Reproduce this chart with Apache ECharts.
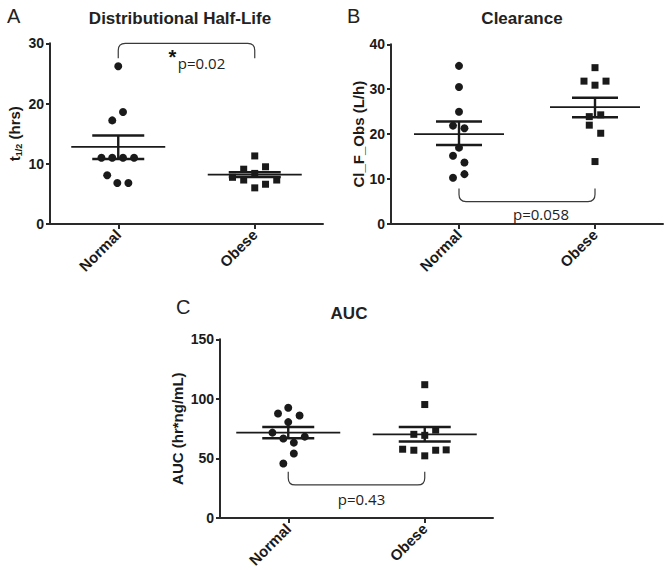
<!DOCTYPE html>
<html>
<head>
<meta charset="utf-8">
<script src="https://cdn.jsdelivr.net/npm/echarts@6/dist/echarts.min.js"></script>
<style>html,body{margin:0;padding:0;background:#fff}#main{width:664px;height:570px}</style>
</head>
<body>
<div id="main"></div>
<script>
// ---- data ----
const categories = ['Normal', 'Obese'];

// Panel A: Distributional Half-Life (hrs)
const aNormal = [26.2, 18.6, 17.2, 11.0, 11.0, 11.0, 11.0, 8.1, 6.8, 6.8];
const aNormalJitter = [0, 0.035, -0.044, -0.123, -0.044, 0.035, 0.116, -0.081, -0.007, 0.074];
const aObese = [11.3, 9.1, 9.5, 8.4, 7.75, 7.3, 7.3, 6.0, 6.6];
const aObeseJitter = [0, -0.081, 0.079, 0, -0.163, -0.081, 0.161, 0, 0.079];
const aMean = [12.8, 8.2];
const aSemLow = [10.8, 7.8];
const aSemHigh = [14.7, 8.6];

// Panel B: Clearance (L/h)
const bNormal = [35.2, 30.5, 25.0, 21.9, 21.3, 17.0, 15.2, 13.7, 10.3, 11.1];
const bNormalJitter = [0, 0, 0, -0.044, 0.04, 0, -0.044, 0.04, -0.044, 0.04];
const bObese = [34.8, 31.8, 31.8, 30.9, 23.9, 24.3, 22.0, 20.2, 13.9];
const bObeseJitter = [0, -0.081, 0.081, 0, -0.042, 0.042, -0.042, 0.042, 0];
const bMean = [20.0, 26.0];
const bSemLow = [17.6, 23.75];
const bSemHigh = [22.8, 28.1];

// Panel C: AUC (hr*ng/mL)
const cNormal = [92.5, 87.75, 86.1, 80.5, 71.7, 66.7, 63.3, 68.3, 54.2, 45.8];
const cNormalJitter = [0, -0.075, 0.083, 0, -0.116, -0.036, 0.041, 0.121, 0.041, -0.036];
const cObese = [111.9, 95.25, 73.8, 69.4, 70.25, 57.75, 56.9, 52.2, 56.9, 57.2];
const cObeseJitter = [0, 0, 0.08, 0, -0.08, -0.162, -0.08, 0, 0.08, 0.157];
const cMean = [71.7, 70.25];
const cSemLow = [66.9, 64.2];
const cSemHigh = [76.4, 76.4];

// brackets: [fromCategory, toCategory, baseValue, tipValue]
const aBracket = [0, 1, 30, 27.5];
const bBracket = [0, 1, 5, 7.9];
const cBracket = [0, 1, 27.75, 38.8];
const pLabels = ['p=0.02', 'p=0.058', 'p=0.43'];

const yTicksA = [0, 30, 10];
const yTicksB = [0, 40, 10];
const yTicksC = [0, 150, 50];

// ---- chart ----
const INK = '#1a1a1a';
const AXIS = '#2a2a2a';
const chart = echarts.init(document.getElementById('main'), null, {renderer: 'svg'});

function pts(vals, jit, k) { return vals.map((v, i) => [k + jit[i], v]); }

function xAxisDef(gi) {
  return {
    type: 'value', gridIndex: gi, min: -0.5, max: 1.5,
    splitLine: {show: false},
    axisLine: {show: true, onZero: false, lineStyle: {color: AXIS, width: 2}},
    axisTick: {show: true, inside: false, customValues: [0, 1], length: 5, lineStyle: {color: AXIS, width: 2}},
    axisLabel: {
      customValues: [0, 1], rotate: 45, margin: 8,
      formatter: v => categories[Math.round(v)],
      fontFamily: 'Liberation Sans', fontWeight: 'bold', fontSize: 15, color: INK
    }
  };
}
function yAxisDef(gi, t, name, gap, rich) {
  const d = {
    type: 'value', gridIndex: gi, min: t[0], max: t[1], interval: t[2],
    splitLine: {show: false},
    axisLine: {show: true, onZero: false, lineStyle: {color: AXIS, width: 2}},
    axisTick: {show: true, inside: false, length: 4, lineStyle: {color: AXIS, width: 2}},
    axisLabel: {fontFamily: 'Liberation Sans', fontWeight: 'bold', fontSize: 14, color: INK, margin: 6},
    name: name, nameLocation: 'middle', nameGap: gap,
    nameTextStyle: {fontFamily: 'Liberation Sans', fontWeight: 'bold', fontSize: 15, color: INK}
  };
  if (rich) d.nameTextStyle.rich = rich;
  return d;
}

function errSeries(gi, mean, lo, hi, meanHalf, semHalf) {
  return {
    type: 'custom', xAxisIndex: gi, yAxisIndex: gi, z: 5,
    data: mean.map((m, k) => [k, m, lo[k], hi[k]]),
    renderItem: function (params, api) {
      const k = api.value(0);
      const pm = api.coord([k, api.value(1)]);
      const pl = api.coord([k, api.value(2)]);
      const ph = api.coord([k, api.value(3)]);
      const st = {stroke: INK, lineWidth: 2.4};
      return {type: 'group', children: [
        {type: 'line', shape: {x1: pm[0] - meanHalf, y1: pm[1], x2: pm[0] + meanHalf, y2: pm[1]}, style: {stroke: INK, lineWidth: 1.7}},
        {type: 'line', shape: {x1: pl[0] - semHalf, y1: pl[1], x2: pl[0] + semHalf, y2: pl[1]}, style: st},
        {type: 'line', shape: {x1: ph[0] - semHalf, y1: ph[1], x2: ph[0] + semHalf, y2: ph[1]}, style: st},
        {type: 'line', shape: {x1: pl[0], y1: pl[1], x2: ph[0], y2: ph[1]}, style: st}
      ]};
    }
  };
}

function bracketSeries(gi, br, label, dx, dy, star) {
  return {
    type: 'custom', xAxisIndex: gi, yAxisIndex: gi, z: 4,
    data: [br],
    renderItem: function (params, api) {
      const p1 = api.coord([api.value(0), api.value(2)]);
      const p2 = api.coord([api.value(1), api.value(2)]);
      const t1 = api.coord([api.value(0), api.value(3)]);
      const dir = t1[1] > p1[1] ? 1 : -1;
      const r = 7;
      const y0 = p1[1];
      const path = 'M' + t1[0] + ' ' + t1[1] +
        ' L' + p1[0] + ' ' + (y0 + dir * r) +
        ' Q' + p1[0] + ' ' + y0 + ' ' + (p1[0] + r) + ' ' + y0 +
        ' L' + (p2[0] - r) + ' ' + y0 +
        ' Q' + p2[0] + ' ' + y0 + ' ' + p2[0] + ' ' + (y0 + dir * r) +
        ' L' + p2[0] + ' ' + t1[1];
      const cx = (p1[0] + p2[0]) / 2;
      const children = [
        {type: 'path', shape: {pathData: path}, style: {fill: null, stroke: '#3a3a3a', lineWidth: 1.2}},
        {type: 'text', x: cx + dx, y: y0 + dy, style: {text: label, fill: '#222', font: '15px "Open Sans"', align: 'center', verticalAlign: 'middle'}}
      ];
      if (star) children.push({type: 'text', x: cx + dx - 29, y: y0 + dy - 6, style: {text: '*', fill: '#111', font: 'bold 20px "Liberation Sans"', align: 'center', verticalAlign: 'middle'}});
      return {type: 'group', children: children};
    }
  };
}

const dotStyle = {color: INK, opacity: 1};
const titleFont = {fontFamily: 'Liberation Sans', fontWeight: 'bold', fontSize: 17, color: '#222'};
const letterFont = {fontFamily: 'Liberation Sans', fontWeight: 'normal', fontSize: 20, color: '#222'};

chart.setOption({
  animation: false,
  backgroundColor: '#fff',
  title: [
    {text: 'A', left: 2, top: 1, textStyle: letterFont},
    {text: 'B', left: 342, top: 1, textStyle: letterFont},
    {text: 'C', left: 171, top: 292, textStyle: letterFont},
    {text: 'Distributional Half-Life', left: 175, top: 5, textAlign: 'center', textStyle: titleFont},
    {text: 'Clearance', left: 517, top: 5, textAlign: 'center', textStyle: titleFont},
    {text: 'AUC', left: 344, top: 300, textAlign: 'center', textStyle: titleFont}
  ],
  grid: [
    {left: 50, top: 43.3, width: 273, height: 180.7},
    {left: 391, top: 44.3, width: 272, height: 179.7},
    {left: 220, top: 339.3, width: 273, height: 180}
  ],
  xAxis: [xAxisDef(0), xAxisDef(1), xAxisDef(2)],
  yAxis: [
    yAxisDef(0, yTicksA, '{t|t}{s|1/2}{t| (hrs)}', 27, {
      t: {fontFamily: 'Liberation Sans', fontWeight: 'bold', fontSize: 15, color: INK, lineHeight: 18},
      s: {fontFamily: 'Liberation Sans', fontWeight: 'bold', fontSize: 9, color: INK, verticalAlign: 'bottom', lineHeight: 18, padding: [7, 0, 0, 0]}
    }),
    yAxisDef(1, yTicksB, 'Cl_F_Obs (L/h)', 23),
    yAxisDef(2, yTicksC, 'AUC (hr*ng/mL)', 35)
  ],
  series: [
    {type: 'scatter', xAxisIndex: 0, yAxisIndex: 0, symbol: 'circle', symbolSize: 8, itemStyle: dotStyle, data: pts(aNormal, aNormalJitter, 0)},
    {type: 'scatter', xAxisIndex: 0, yAxisIndex: 0, symbol: 'rect', symbolSize: 7, itemStyle: dotStyle, data: pts(aObese, aObeseJitter, 1)},
    errSeries(0, aMean, aSemLow, aSemHigh, 47, 26),
    bracketSeries(0, aBracket, pLabels[0], 15, 20, true),

    {type: 'scatter', xAxisIndex: 1, yAxisIndex: 1, symbol: 'circle', symbolSize: 8, itemStyle: dotStyle, data: pts(bNormal, bNormalJitter, 0)},
    {type: 'scatter', xAxisIndex: 1, yAxisIndex: 1, symbol: 'rect', symbolSize: 7, itemStyle: dotStyle, data: pts(bObese, bObeseJitter, 1)},
    errSeries(1, bMean, bSemLow, bSemHigh, 45, 23),
    bracketSeries(1, bBracket, pLabels[1], 14, 12, false),

    {type: 'scatter', xAxisIndex: 2, yAxisIndex: 2, symbol: 'circle', symbolSize: 8, itemStyle: dotStyle, data: pts(cNormal, cNormalJitter, 0)},
    {type: 'scatter', xAxisIndex: 2, yAxisIndex: 2, symbol: 'rect', symbolSize: 7, itemStyle: dotStyle, data: pts(cObese, cObeseJitter, 1)},
    errSeries(2, cMean, cSemLow, cSemHigh, 52, 26),
    bracketSeries(2, cBracket, pLabels[2], 5, 14, false)
  ]
});
</script>
</body>
</html>
